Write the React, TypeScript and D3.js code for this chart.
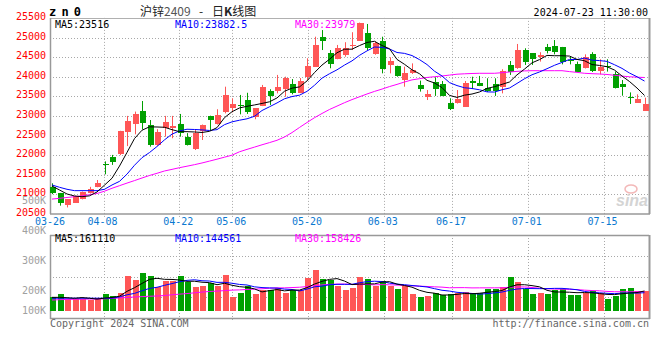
import React from 'react';
import * as d3 from 'd3';

const dates = [
  '03-26','03-27','03-28','03-29',
  '04-01','04-02','04-03','04-08','04-09','04-10','04-11','04-12','04-15','04-16','04-17','04-18','04-19','04-22','04-23','04-24','04-25','04-26','04-29','04-30',
  '05-06','05-07','05-08','05-09','05-10','05-13','05-14','05-15','05-16','05-17','05-20','05-21','05-22','05-23','05-24','05-27','05-28','05-29','05-30','05-31',
  '06-03','06-04','06-05','06-06','06-07','06-11','06-12','06-13','06-14','06-17','06-18','06-19','06-20','06-21','06-24','06-25','06-26','06-27','06-28',
  '07-01','07-02','07-03','07-04','07-05','07-08','07-09','07-10','07-11','07-12','07-15','07-16','07-17','07-18','07-19','07-22','07-23'
];

const opens = [21180,21025,20735,20785,20880,21035,21195,21775,21945,22020,22600,22795,23125,22770,22260,22700,22700,22795,22470,22155,22615,23000,22795,23090,23210,23270,23405,22980,23255,23645,23645,23685,23805,23590,24000,24255,25020,24595,24450,24555,24785,24920,25105,24570,24920,24300,24275,23915,24085,23790,23475,23875,23815,23320,23320,23235,23890,23845,23705,23805,23730,24300,24215,24680,24595,24510,24750,24785,24750,24435,24315,24215,24580,24155,24275,24060,23805,23490,23335,23135];
const highs = [21280,21035,20880,20965,21070,21190,21365,21840,22005,22620,23000,23110,23380,22895,22660,23000,23000,23050,22560,22660,22780,23005,23170,23745,23450,23535,23590,23200,23790,23680,24045,24000,23940,23965,24470,25020,25190,24680,24810,24880,25135,25380,25345,24900,25020,24495,24280,24255,24340,23900,23660,23985,23890,23450,23660,23890,24000,24020,23960,23960,24190,24400,24835,24725,24600,24625,24835,24935,24760,24510,24385,24570,24625,24445,24445,24130,23915,23600,23550,23465];
const lows = [21005,20710,20665,20780,20870,21020,21180,21510,21750,22000,22230,22530,22660,22215,22235,22470,22430,22470,22245,22130,22385,22615,22780,23065,23090,23040,23050,22915,23250,23280,23575,23490,23550,23580,23915,24250,24680,24215,24445,24510,24680,24915,24680,24560,24085,24085,24000,23745,24070,23620,23405,23510,23505,23150,23315,23230,23685,23760,23610,23510,23575,24045,24200,24300,24300,24385,24595,24570,24315,24315,24120,24210,24120,24060,24130,23700,23515,23305,23330,23130];
const closes = [21025,20785,20875,20950,21060,21135,21280,21745,21830,22615,22870,23050,22810,22260,22595,22835,22745,22555,22260,22555,22770,22895,23025,23535,23305,23255,23105,23195,23730,23515,23745,23960,23590,23890,24275,24810,24920,24325,24725,24725,24815,25380,24725,24870,24190,24400,24020,24100,24170,23685,23560,23685,23510,23175,23430,23845,23830,23770,23635,23645,24145,24130,24680,24370,24445,24555,24665,24640,24370,24400,24130,24495,24155,24255,24240,23705,23730,23455,23425,23295];

const volumes = [
  114000,136000,95000,95000,95000,87000,101000,136000,120000,147000,
  286000,250000,310000,286000,190000,245000,245000,286000,231000,196000,
  204000,228000,201000,291000,114000,147000,201000,136000,169000,169000,
  188000,147000,169000,169000,269000,332000,258000,250000,201000,169000,
  188000,277000,258000,204000,242000,204000,177000,201000,136000,114000,
  122000,141000,128000,136000,141000,155000,133000,147000,174000,174000,
  196000,277000,237000,177000,136000,147000,136000,169000,174000,128000,
  128000,141000,160000,141000,95000,120000,177000,188000,160000,160000
];

// MA30 of price
const priceMa30 = [20878,20898,20919,20939,20960,20990,21021,21079,21154,21220,21286,21350,21416,21480,21536,21595,21636,21679,21717,21756,21799,21847,21896,21947,21998,22085,22146,22204,22263,22319,22378,22462,22574,22705,22832,22954,23062,23164,23250,23337,23416,23488,23559,23625,23684,23748,23804,23865,23919,23949,23980,24000,24018,24041,24064,24074,24082,24087,24087,24087,24102,24120,24136,24148,24153,24153,24153,24153,24153,24130,24110,24087,24077,24069,24057,24036,24016,23998,23988,23979];
// Moving-average values at the start (before a full window is available)
const priceMa5Head = [21212,21110,21008,20957];
const priceMa10Head = [21238,21179,21128,21093,21093,21093,21093,21128,21238];
const volMa5Head = [109000,109000,106000,101000];
const volMa10Head = [102000,102000,102000,102000,102000,102000,102000,102000,102000];
const volMa30Head = [87000,90000,92000,93000,94000,95000,95000,97000,100000,104000,108000,112000,115000,118000,120000,124000,130000,135000,140000,146000,152000,157000,160000,164000,168000,170000,173000,176000,179000];

const priceTicks = [20500,21000,21500,22000,22500,23000,23500,24000,24500,25000,25500];
const volTickValues = [100000,200000,300000,400000,500000];
const volTickLabels = ['100K','200K','300K','400K','500K'];
const dateTicks = ['03-26','04-08','04-22','05-06','05-20','06-03','06-17','07-01','07-15'];

const priceLegend = ['MA5:23516','MA10:23882.5','MA30:23979'];
const volLegend = ['MA5:161110','MA10:144561','MA30:158426'];
const legendColors = ['#000000','#0000ff','#ff00ff'];

const RED = '#ff5656';
const GREEN = '#00a000';
const MONO = '"DejaVu Sans Mono", monospace';

function movingAverage(vals: number[], n: number, head: number[]) {
  return vals.map((v, i) => (i < n - 1 ? head[i] : (d3.mean(vals.slice(i - n + 1, i + 1)) as number)));
}

export default function App() {
  const L = 50, R = 649;
  const pTop = 17.9, pBot = 213.9;
  const vTop = 235, vBot = 318.3, vBase = 310.7;
  const n = dates.length;

  const xc = d3.scaleLinear().domain([0, n - 1]).range([52, 644.5]);
  const gx = d3.scaleLinear().domain([0, n - 1]).range([50.5, 649]);
  const yP = d3.scaleLinear().domain([20500, 25500]).range([pBot, pTop]);
  const yV = d3.scaleLinear().domain([0, 400000]).range([vBase, vBase - 49]);
  const yVLabel = d3.scaleLinear().domain([100000, 200000, 500000]).range([310.7, 290.7, 200]);
  const yVGrid = d3.scaleLinear().domain([0, 4]).range([vBot, vTop]);

  const ma5 = movingAverage(closes, 5, priceMa5Head);
  const ma10 = movingAverage(closes, 10, priceMa10Head);
  const vma5 = movingAverage(volumes, 5, volMa5Head);
  const vma10 = movingAverage(volumes, 10, volMa10Head);
  const vma30 = movingAverage(volumes, 30, volMa30Head);

  const lineP = d3.line<number>().x((_, i) => xc(i)).y((d) => yP(d));
  const lineV = d3.line<number>().x((_, i) => xc(i)).y((d) => yV(d));

  const bodyW = 6;
  const tickIdx = dateTicks.map((d) => dates.indexOf(d));

  return (
    <svg width={660} height={360} style={{ position: 'absolute', left: 0, top: 0, background: '#fff' }}>
      <rect x={0} y={0} width={660} height={360} fill="#fff" />

      {/* header */}
      <text x={49} y={16} fontFamily={MONO} fontWeight="bold" fontSize={12} letterSpacing={5.2} fill="#000">zn0</text>
      <text x={140} y={16} fontFamily='"Noto Sans CJK SC", sans-serif' fontSize={12} fill="#222">沪锌<tspan fill="#555">2409</tspan></text>
      <text x={201} y={16} fontFamily='"Noto Sans CJK SC", sans-serif' fontSize={12} textAnchor="middle" fill="#222">-</text>
      <text x={212} y={16} fontFamily='"Noto Sans CJK SC", sans-serif' fontSize={12} fill="#222">日<tspan fontWeight="bold">K</tspan>线图</text>
      <text x={648} y={16} fontFamily={MONO} fontSize={10} textAnchor="end" fill="#000">2024-07-23 11:30:00</text>

      {/* price grid */}
      {priceTicks.slice(1, -1).map((t) => (
        <line key={'hp' + t} x1={L} x2={R} y1={Math.round(yP(t)) + 0.5} y2={Math.round(yP(t)) + 0.5} stroke="#a8a8a8" strokeDasharray="1,2" />
      ))}
      {tickIdx.slice(1).map((i) => (
        <line key={'vp' + i} x1={Math.round(gx(i)) + 0.5} x2={Math.round(gx(i)) + 0.5} y1={pTop} y2={pBot + 3} stroke="#a8a8a8" strokeDasharray="1,2" />
      ))}
      {/* price frame */}
      <line x1={L} x2={R} y1={18.5} y2={18.5} stroke="#b0b0b0" />
      <line x1={L} x2={R + 1} y1={214} y2={214} stroke="#999" strokeWidth={1.5} />
      <line x1={50.5} x2={50.5} y1={18} y2={214} stroke="#999" strokeWidth={1.5} />
      <line x1={649.5} x2={649.5} y1={18} y2={214} stroke="#999" strokeWidth={2} />

      {/* price axis labels */}
      {priceTicks.map((t) => (
        <text key={'pl' + t} x={46} y={yP(t) - 1.5} dy="0.35em" fontFamily={MONO} fontSize={10} textAnchor="end" fill="#ff0000">{t}</text>
      ))}
      {/* volume labels */}
      {volTickValues.map((v, k) => (
        <text key={'vl' + v} x={46} y={yVLabel(v)} dy="0.35em" fontFamily={MONO} fontSize={10} textAnchor="end" fill="#a0a0a0">{volTickLabels[k]}</text>
      ))}
      {/* date labels */}
      {tickIdx.map((i, k) => (
        <text key={'dl' + i} x={k === 0 ? 50 : gx(i) - 1} y={221.5} dy="0.35em" fontFamily={MONO} fontSize={10} textAnchor="middle" fill="#0a78d0">{dateTicks[k]}</text>
      ))}

      {/* legends */}
      {priceLegend.map((t, k) => (
        <text key={'lg' + k} x={55 + k * 120} y={24} dy="0.35em" fontFamily={MONO} fontSize={10} fill={legendColors[k]}>{t}</text>
      ))}
      <rect x={358} y={23} width={6} height={6} fill={RED} />
      <line x1={367.5} x2={367.5} y1={24} y2={29} stroke={GREEN} />

      {/* sina watermark */}
      <ellipse cx={631} cy={189} rx={6} ry={4} fill="none" stroke="#f3b8b8" strokeWidth={1.5} />
      <text x={648} y={206} fontFamily="Liberation Sans, sans-serif" fontStyle="italic" fontWeight="bold" fontSize={16} textAnchor="end" fill="#d4d4d4">sina</text>

      {/* candles */}
      {dates.map((d, i) => {
        const o = opens[i], c = closes[i];
        const up = c >= o;
        const col = up ? RED : GREEN;
        const x = Math.round(xc(i));
        const top = yP(Math.max(o, c));
        const h = Math.max(1, Math.abs(yP(o) - yP(c)));
        return (
          <g key={'c' + d}>
            <line x1={x + 0.5} x2={x + 0.5} y1={yP(highs[i])} y2={yP(lows[i])} stroke={col} />
            <rect x={x - bodyW / 2 + 0.5} y={top} width={bodyW} height={h} fill={col} shapeRendering="crispEdges" />
          </g>
        );
      })}
      <path d={lineP(priceMa30) as string} fill="none" stroke="#ff00ff" strokeWidth={1} />
      <path d={lineP(ma10) as string} fill="none" stroke="#0000ff" strokeWidth={1} />
      <path d={lineP(ma5) as string} fill="none" stroke="#000" strokeWidth={1} />

      {/* volume panel */}
      {[1, 2, 3].map((k) => (
        <line key={'hv' + k} x1={L} x2={R} y1={Math.round(yVGrid(k)) + 0.5} y2={Math.round(yVGrid(k)) + 0.5} stroke="#a8a8a8" strokeDasharray="1,2" />
      ))}
      {tickIdx.slice(1).map((i) => (
        <line key={'vv' + i} x1={Math.round(gx(i)) + 0.5} x2={Math.round(gx(i)) + 0.5} y1={vTop} y2={vBot + 3} stroke="#a8a8a8" strokeDasharray="1,2" />
      ))}
      <line x1={L} x2={R} y1={235.5} y2={235.5} stroke="#999" strokeWidth={1.5} />
      <line x1={L} x2={R + 1} y1={318.5} y2={318.5} stroke="#999" strokeWidth={1.5} />
      <line x1={50.5} x2={50.5} y1={235} y2={319} stroke="#999" strokeWidth={1.5} />
      <line x1={649.5} x2={649.5} y1={235} y2={319} stroke="#999" strokeWidth={2} />

      {volumes.map((v, i) => {
        const up = closes[i] >= opens[i];
        const x = Math.round(xc(i));
        return (
          <rect key={'v' + i} x={x - bodyW / 2 + 0.5} y={yV(v)} width={bodyW} height={yV(0) - yV(v)} fill={up ? RED : GREEN} shapeRendering="crispEdges" />
        );
      })}
      <path d={lineV(vma30) as string} fill="none" stroke="#ff00ff" strokeWidth={1} />
      <path d={lineV(vma10) as string} fill="none" stroke="#0000ff" strokeWidth={1} />
      <path d={lineV(vma5) as string} fill="none" stroke="#000" strokeWidth={1} />

      {volLegend.map((t, k) => (
        <text key={'vlg' + k} x={55 + k * 120} y={238.5} dy="0.35em" fontFamily={MONO} fontSize={10} fill={legendColors[k]}>{t}</text>
      ))}

      {/* footer */}
      <text x={50} y={323.5} dy="0.35em" fontFamily={MONO} fontSize={10} fill="#666">Copyright 2024 SINA.COM</text>
      <text x={649} y={323.5} dy="0.35em" fontFamily={MONO} fontSize={10} textAnchor="end" fill="#666">http://finance.sina.com.cn</text>
    </svg>
  );
}
